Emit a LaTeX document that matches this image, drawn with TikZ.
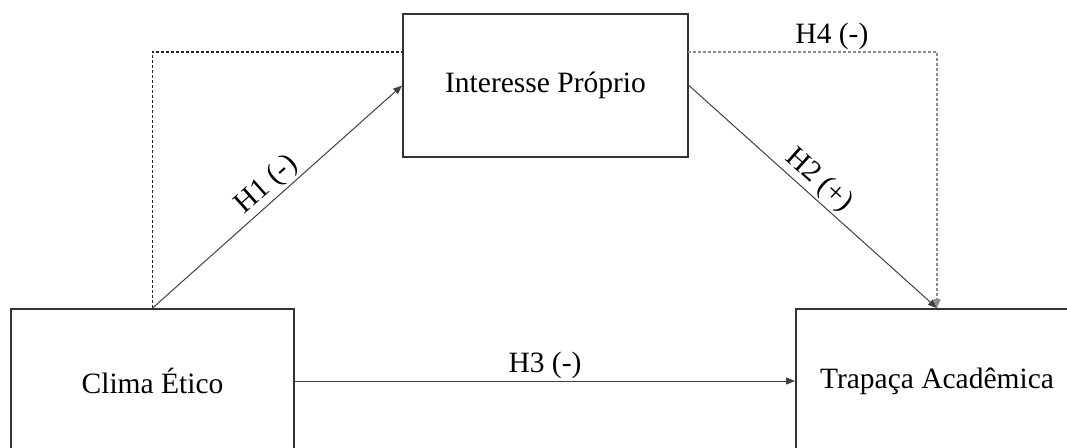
\documentclass[tikz,border=0pt]{standalone}
\usepackage{fontspec}
\setmainfont{Liberation Serif}
\usetikzlibrary{arrows.meta}
\begin{document}
\begin{tikzpicture}[x=1pt,y=-1pt,
  every node/.style={font=\fontsize{29.5}{34}\selectfont},
  boxnode/.style={draw=black!80, line width=1.8pt, rectangle, inner sep=0pt},
  conn/.style={draw=black!75, line width=1pt, -{Triangle[length=9pt,width=7pt]}},
  dashconn/.style={line width=1.2pt, dash pattern=on 3pt off 2pt},
  lbl/.style={inner sep=2pt}]
\useasboundingbox (0,0) rectangle (1067,447);
\node[boxnode, minimum width=285pt, minimum height=143pt] (ip) at (545.5,85.5) {Interesse Próprio};
\node[boxnode, minimum width=283pt, minimum height=144pt] (ce) at (152.5,381) {Clima Ético};
\node[boxnode, minimum width=282pt, minimum height=144pt] (ta) at (937,381) {Trapaça Acadêmica};
\coordinate (dl) at (403,52);
\coordinate (dr) at (688,52);
\draw[dashconn, draw=black!85] (ce.north) |- (dl);
\draw[dashconn, draw=black!45, -{Triangle[length=9pt,width=7pt]}] (dr) -| node[pos=0.289, above, lbl] {H4 (-)} (ta.north);
\draw[conn] (ce.north) -- node[midway, sloped, above, lbl] {H1 (-)} (ip.west);
\draw[conn] (ip.east) -- node[pos=0.48, sloped, above, lbl] {H2 (+)} (ta.north);
\draw[conn] (ce.east) -- node[midway, above, lbl] {H3 (-)} (ta.west);
\end{tikzpicture}
\end{document}
